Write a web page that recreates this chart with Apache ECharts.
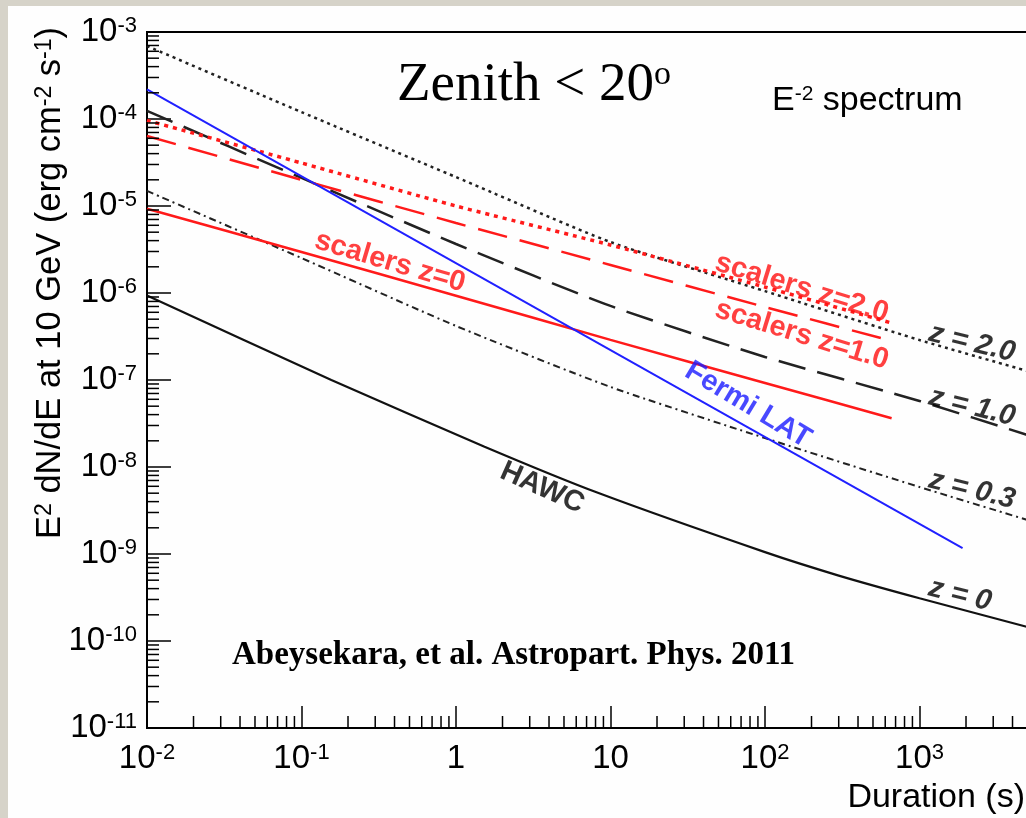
<!DOCTYPE html>
<html><head><meta charset="utf-8">
<script src="https://cdn.jsdelivr.net/npm/echarts@6/dist/echarts.min.js"></script>
<style>
html,body{margin:0;padding:0;width:1026px;height:818px;overflow:hidden;background:#d6d3c9;}
#frame{position:absolute;left:8px;top:6px;right:0;bottom:0;background:#fefefe;}
#chart{position:absolute;left:0;top:0;width:1084px;height:818px;}
</style></head><body>
<div id="frame"></div>
<div id="chart"></div>
<script>
// ---------------- data ----------------
const hawcDurations = [0.01, 0.1, 1, 10, 100, 1000, 5000];          // s
const hawcZ03 = [1.49e-5, 2.52e-6, 4.18e-7, 8.32e-8, 2.15e-8, 5.89e-9, 2.46e-9];
const hawcZ10 = [1.24e-4, 2.10e-5, 3.66e-6, 7.10e-7, 1.84e-7, 5.74e-8, 2.33e-8];
const hawcZ20 = [6.90e-4, 1.20e-4, 2.15e-5, 3.85e-6, 1.05e-6, 2.88e-7, 1.27e-7];
const hawcZ0Durations = [0.01, 0.156, 1.53, 8.45, 100, 300, 1000, 5000];
const hawcZ0  = [9.35e-7, 1.00e-7, 1.71e-8, 4.98e-9, 1.05e-9, 5.65e-10, 3.10e-10, 1.45e-10];
const scalerDurations = [0.01, 0.1, 1, 10, 100, 660];
const scalerZ0  = [9.31e-6, 2.96e-6, 9.31e-7, 2.89e-7, 9.25e-8, 3.63e-8];
const scalerZ10 = [6.38e-5, 2.00e-5, 6.38e-6, 2.10e-6, 6.90e-7, 2.81e-7];
const scalerZ20 = [9.64e-5, 3.12e-5, 1.00e-5, 3.56e-6, 1.17e-6, 4.52e-7];
const fermiDurations = [0.01, 1900];
const fermiLAT = [2.19e-4, 1.17e-9];
// axis ticks
const xDecadeExponents = [-2, -1, 0, 1, 2, 3];
const yDecadeExponents = [-11, -10, -9, -8, -7, -6, -5, -4];
const minorMultipliers = [2, 3, 4, 5, 6, 7, 8, 9];
const curveLabelTexts = ['scalers z=0', 'scalers z=2.0', 'scalers z=1.0', 'Fermi LAT', 'HAWC', 'z = 2.0', 'z = 1.0', 'z = 0.3', 'z = 0'];

// ---------------- layout of curve labels (data coordinates) ----------------
const curveLabelLayout = [
  {at: [0.374, 2.27e-6], rotate: -16.5, color: '#ff1010', italic: false},
  {at: [173, 1.14e-6],   rotate: -17,   color: '#ff1010', italic: false},
  {at: [173, 3.29e-7],   rotate: -17,   color: '#ff1010', italic: false},
  {at: [77.6, 5.16e-8],  rotate: -31,   color: '#1a1aff', italic: false},
  {at: [3.61, 5.74e-9],  rotate: -24,   color: '#000000', italic: false},
  {at: [2188, 2.66e-7],  rotate: -14,   color: '#000000', italic: true},
  {at: [2188, 4.90e-8],  rotate: -14,   color: '#000000', italic: true},
  {at: [2188, 5.45e-9],  rotate: -14,   color: '#000000', italic: true},
  {at: [1828, 3.38e-10], rotate: -14,   color: '#000000', italic: true}
];

const SANS = "'Liberation Sans', Arial, Helvetica, sans-serif";
const SERIF = "'Liberation Serif', 'Times New Roman', serif";

const tickRich = {
  b: {fontSize: 33, lineHeight: 34, fontFamily: SANS, color: '#000'},
  s: {fontSize: 22, lineHeight: 12, fontFamily: SANS, color: '#000', verticalAlign: 'top'}
};
function expLabel(v) {
  const n = Math.round(Math.log10(v));
  if (n === 0) return '{b|1}';
  if (n === 1) return '{b|10}';
  return '{b|10}{s|' + n + '}';
}

function pairs(xs, ys) { return xs.map((x, i) => [x, ys[i]]); }
function lineSeries(name, xs, ys, color, width, type) {
  return {
    name, type: 'line', data: pairs(xs, ys), showSymbol: false, symbol: 'none',
    smooth: 0.2, silent: true, z: 3,
    lineStyle: {color, width, type}
  };
}

const xMinorTicks = [];
xDecadeExponents.forEach(n => minorMultipliers.forEach(k => xMinorTicks.push([k * Math.pow(10, n), 1e-11])));
const yMinorTicks = [];
yDecadeExponents.forEach(n => minorMultipliers.forEach(k => yMinorTicks.push([0.01, k * Math.pow(10, n)])));

const chart = echarts.init(document.getElementById('chart'), null, {renderer: 'canvas'});
chart.setOption({
  animation: false,
  backgroundColor: 'transparent',
  grid: {left: 147, right: 10, top: 32, bottom: 90, show: true, borderColor: '#000', borderWidth: 2,
         backgroundColor: 'transparent', containLabel: false, outerBoundsMode: 'none'},
  xAxis: {
    type: 'log', logBase: 10, min: 0.01, max: 10000,
    axisLine: {show: true, lineStyle: {color: '#000', width: 2}},
    axisTick: {show: true, inside: true, length: 22, lineStyle: {color: '#000', width: 1.5}},
    splitLine: {show: false},
    axisLabel: {formatter: expLabel, margin: 14, rich: tickRich}
  },
  yAxis: {
    type: 'log', logBase: 10, min: 1e-11, max: 1e-3,
    axisLine: {show: true, lineStyle: {color: '#000', width: 2}},
    axisTick: {show: true, inside: true, length: 24, lineStyle: {color: '#000', width: 1.5}},
    splitLine: {show: false},
    axisLabel: {formatter: expLabel, margin: 10, rich: tickRich}
  },
  graphic: [
    {type: 'text', x: 397, y: 86, style: {
      text: '{m|Zenith < 20}{o|o}', verticalAlign: 'middle', align: 'left',
      rich: {m: {fontSize: 55, lineHeight: 56, fontFamily: SERIF, color: '#000'},
             o: {fontSize: 34, lineHeight: 34, fontFamily: SERIF, color: '#000', verticalAlign: 'top'}}}},
    {type: 'text', x: 772, y: 101, style: {
      text: '{b|E}{s|-2}{b| spectrum}', verticalAlign: 'middle', align: 'left',
      rich: {b: {fontSize: 34, lineHeight: 34, fontFamily: SANS, color: '#000'},
             s: {fontSize: 21, lineHeight: 14, fontFamily: SANS, color: '#000', verticalAlign: 'top'}}}},
    {type: 'text', x: 232, y: 655, style: {
      text: 'Abeysekara, et al. Astropart. Phys. 2011', verticalAlign: 'middle', align: 'left',
      font: 'bold 33px ' + SERIF, fill: '#000'}},
    {type: 'text', x: 1025, y: 798, style: {
      text: 'Duration (s)', verticalAlign: 'middle', align: 'right',
      font: '34px ' + SANS, fill: '#000'}},
    {type: 'text', x: 50, y: 283, rotation: Math.PI / 2, style: {
      text: '{b|E}{s|2}{b| dN/dE at 10 GeV (erg cm}{s|-2}{b| s}{s|-1}{b|)}', verticalAlign: 'middle', align: 'center',
      rich: {b: {fontSize: 34.5, lineHeight: 34, fontFamily: SANS, color: '#000'},
             s: {fontSize: 23, lineHeight: 12, fontFamily: SANS, color: '#000', verticalAlign: 'top'}}}}
  ],
  series: [
    lineSeries('HAWC z=2.0', hawcDurations, hawcZ20, '#222', 2.5, [3, 4]),
    lineSeries('HAWC z=1.0', hawcDurations, hawcZ10, '#222', 2.5, [28, 12]),
    lineSeries('HAWC z=0.3', hawcDurations, hawcZ03, '#222', 2, [7, 4, 2, 4]),
    lineSeries('HAWC z=0', hawcZ0Durations, hawcZ0, '#111', 2.2, 'solid'),
    lineSeries('scalers z=2.0', scalerDurations, scalerZ20, '#ff1a1a', 3.5, [4, 5]),
    lineSeries('scalers z=1.0', scalerDurations, scalerZ10, '#ff1a1a', 2.5, [30, 13]),
    lineSeries('scalers z=0', scalerDurations, scalerZ0, '#ff1a1a', 2.5, 'solid'),
    lineSeries('Fermi LAT', fermiDurations, fermiLAT, '#2020ff', 2, 'solid'),
    {
      type: 'custom', name: 'x minor ticks', data: xMinorTicks, silent: true, z: 4, clip: false,
      renderItem: (params, api) => {
        const p = api.coord([api.value(0), api.value(1)]);
        return {type: 'line', shape: {x1: p[0], y1: p[1], x2: p[0], y2: p[1] - 12}, style: {stroke: '#000', lineWidth: 1.5}};
      }
    },
    {
      type: 'custom', name: 'y minor ticks', data: yMinorTicks, silent: true, z: 4, clip: false,
      renderItem: (params, api) => {
        const p = api.coord([api.value(0), api.value(1)]);
        return {type: 'line', shape: {x1: p[0], y1: p[1], x2: p[0] + 12, y2: p[1]}, style: {stroke: '#000', lineWidth: 1.5}};
      }
    },
    {
      type: 'scatter', name: 'curve labels', symbolSize: 1, silent: true, z: 6,
      itemStyle: {color: 'rgba(0,0,0,0)'},
      data: curveLabelLayout.map((c, i) => ({
        value: c.at,
        label: {show: true, position: 'inside', formatter: curveLabelTexts[i], rotate: c.rotate,
                color: c.color, fontSize: 29, fontWeight: 'bold',
                fontStyle: c.italic ? 'italic' : 'normal', fontFamily: SANS}
      }))
    }
  ]
});
</script>
</body></html>
